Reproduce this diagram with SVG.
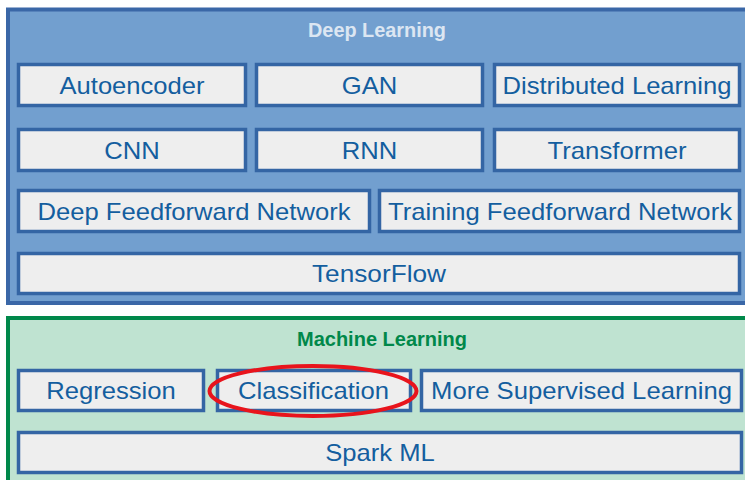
<svg xmlns="http://www.w3.org/2000/svg" width="745" height="480" viewBox="0 0 745 480">
<style>
.grp-dl{fill:#729fcf;stroke:#3a67a7;stroke-width:4}
.grp-ml{fill:#bfe3d1;stroke:#00884a;stroke-width:4}
.box rect{fill:#eeeeee;stroke:#3465a4;stroke-width:3.5}
.box text{font-family:"Liberation Sans",Arial,sans-serif;font-size:24px;fill:#145e9f;text-anchor:middle}
.title{font-family:"Liberation Sans",Arial,sans-serif;font-size:19.5px;font-weight:bold;text-anchor:middle}
</style>
<rect width="745" height="480" fill="#ffffff"/>
<g id="deep-learning">
<rect class="grp-dl" x="8" y="9.5" width="760" height="293.5"/>
<text class="title" x="377" y="37" fill="#dce6f2" textLength="138" lengthAdjust="spacingAndGlyphs">Deep Learning</text>
</g>
<g id="autoencoder" class="box"><rect x="18.5" y="64.5" width="227" height="41"/><text x="132" y="93.5" textLength="145" lengthAdjust="spacingAndGlyphs">Autoencoder</text></g>
<g id="gan" class="box"><rect x="256.5" y="64.5" width="226" height="41"/><text x="369.5" y="93.5" textLength="55.5" lengthAdjust="spacingAndGlyphs">GAN</text></g>
<g id="distributed-learning" class="box"><rect x="494.5" y="64.5" width="245" height="41"/><text x="617" y="93.5" textLength="229" lengthAdjust="spacingAndGlyphs">Distributed Learning</text></g>
<g id="cnn" class="box"><rect x="18.5" y="129.5" width="227" height="41"/><text x="132" y="158.5" textLength="55.5" lengthAdjust="spacingAndGlyphs">CNN</text></g>
<g id="rnn" class="box"><rect x="256.5" y="129.5" width="226" height="41"/><text x="369.5" y="158.5" textLength="55.5" lengthAdjust="spacingAndGlyphs">RNN</text></g>
<g id="transformer" class="box"><rect x="494.5" y="129.5" width="245" height="41"/><text x="617" y="158.5" textLength="139" lengthAdjust="spacingAndGlyphs">Transformer</text></g>
<g id="deep-feedforward-network" class="box"><rect x="18.5" y="190.5" width="351" height="41"/><text x="194" y="219.5" textLength="313" lengthAdjust="spacingAndGlyphs">Deep Feedforward Network</text></g>
<g id="training-feedforward-network" class="box"><rect x="379.5" y="190.5" width="360" height="41"/><text x="560" y="219.5" textLength="344" lengthAdjust="spacingAndGlyphs">Training Feedforward Network</text></g>
<g id="tensorflow" class="box"><rect x="18.5" y="253.5" width="721" height="40"/><text x="379" y="281.5" textLength="134" lengthAdjust="spacingAndGlyphs">TensorFlow</text></g>
<g id="machine-learning">
<rect class="grp-ml" x="8" y="318" width="760" height="180"/>
<text class="title" x="382" y="346" fill="#00884a" textLength="170" lengthAdjust="spacingAndGlyphs">Machine Learning</text>
</g>
<g id="regression" class="box"><rect x="18.5" y="370.5" width="185" height="40"/><text x="111" y="399" textLength="129.5" lengthAdjust="spacingAndGlyphs">Regression</text></g>
<g id="classification" class="box"><rect x="217.5" y="370.5" width="193" height="40"/><text x="313.5" y="399" textLength="151" lengthAdjust="spacingAndGlyphs">Classification</text></g>
<g id="more-supervised-learning" class="box"><rect x="421.5" y="370.5" width="320" height="40"/><text x="581.5" y="399" textLength="301" lengthAdjust="spacingAndGlyphs">More Supervised Learning</text></g>
<g id="spark-ml" class="box"><rect x="18.5" y="432.5" width="723" height="40"/><text x="380" y="461" textLength="109.5" lengthAdjust="spacingAndGlyphs">Spark ML</text></g>
<g id="connectors"/>
<g id="highlight"><ellipse cx="313" cy="391" rx="103.5" ry="25" fill="none" stroke="#e8141c" stroke-width="4"/></g>
</svg>
